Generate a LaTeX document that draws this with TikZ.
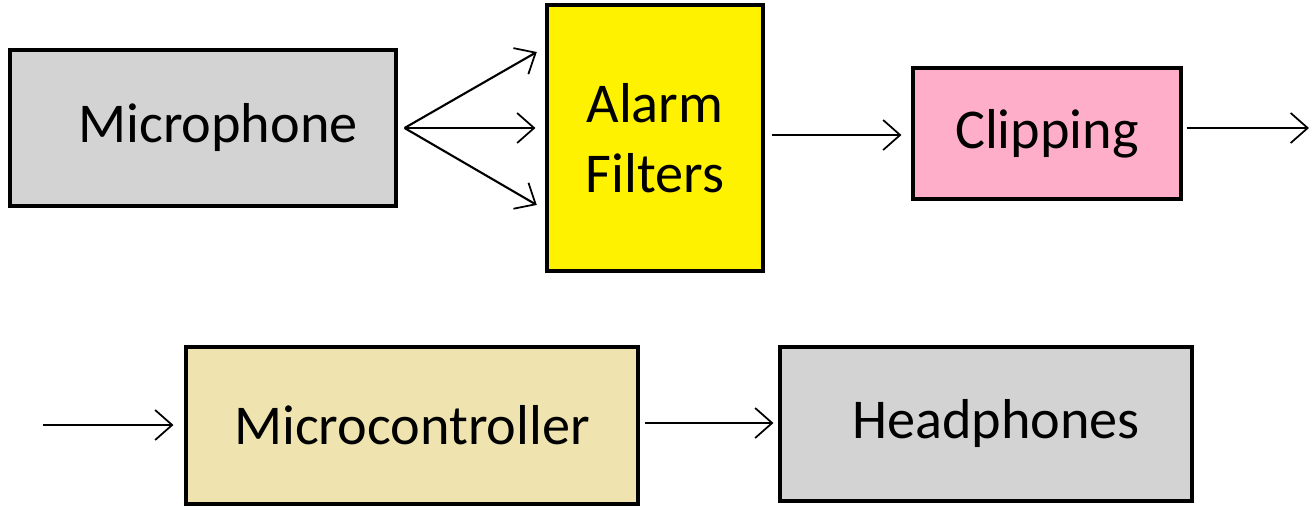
\documentclass[tikz,border=0pt]{standalone}
\usepackage{fontspec}
\setmainfont{Carlito}
\usepackage{xcolor}
\usetikzlibrary{arrows.meta, positioning, calc}
\definecolor{micgray}{RGB}{211, 211, 211}
\definecolor{filteryellow}{RGB}{255, 242, 0}
\definecolor{clippink}{RGB}{255, 174, 201}
\definecolor{mcusand}{RGB}{239, 228, 176}
\tikzset{
    box/.style={rectangle, draw=black, line width=1.8pt, align=center, font=\fontsize{32}{40}\selectfont, inner sep=0pt},
    arr/.style={-{Straight Barb[length=3.4mm, width=6mm, line width=1pt]}, line width=1.2pt, black}
}
\begin{document}
\begin{tikzpicture}[x=0.02cm, y=-0.02cm]
        \useasboundingbox (0,0) rectangle (1309,505);
        \node[box, fill=micgray, minimum width=7.72cm, minimum height=3.12cm] (mic) at (203,128) {\hspace{0.6cm}Microphone};
        \node[box, fill=filteryellow, minimum width=4.32cm, minimum height=5.32cm] (filters) at (655,138) {\rule{0pt}{0.2cm}Alarm\\Filters};
        \node[box, fill=clippink, minimum width=5.36cm, minimum height=2.62cm] (clip) at (1047,133.5) {Clipping};
        \node[box, fill=mcusand, minimum width=9.04cm, minimum height=3.14cm] (mcu) at (412,425.5) {Microcontroller};
        \node[box, fill=micgray, minimum width=8.24cm, minimum height=3.08cm] (phones) at (986,424) {\hspace{0.4cm}Headphones};
        % free ends of the wrap-around arrow
        \coordinate (out) at (1309,128);
        \coordinate (in) at (43,425);
        \coordinate (fanstart) at ($(mic.east)+(7,0)$);
        \coordinate (fantop) at (filters.west |- 0,47);
        \coordinate (fanmid) at (filters.west |- 0,128);
        \coordinate (fanbot) at (filters.west |- 0,210);
        \draw[arr, shorten >=0.2cm] (fanstart)--(fantop);
        \draw[arr, shorten >=0.2cm] (fanstart)--(fanmid);
        \draw[arr, shorten >=0.2cm] (fanstart)--(fanbot);
        \draw[arr, shorten <=0.14cm, shorten >=0.2cm] (filters.east|-0,135)--(clip.west|-0,135);
        \draw[arr, shorten <=0.08cm] (clip.east|-0,128)--(out);
        \draw[arr, shorten >=0.22cm] (in)--(mcu.west|-in);
        \draw[arr, shorten <=0.1cm, shorten >=0.1cm] (mcu.east|-0,423)--(phones.west|-0,423);
    \end{tikzpicture}
\end{document}
